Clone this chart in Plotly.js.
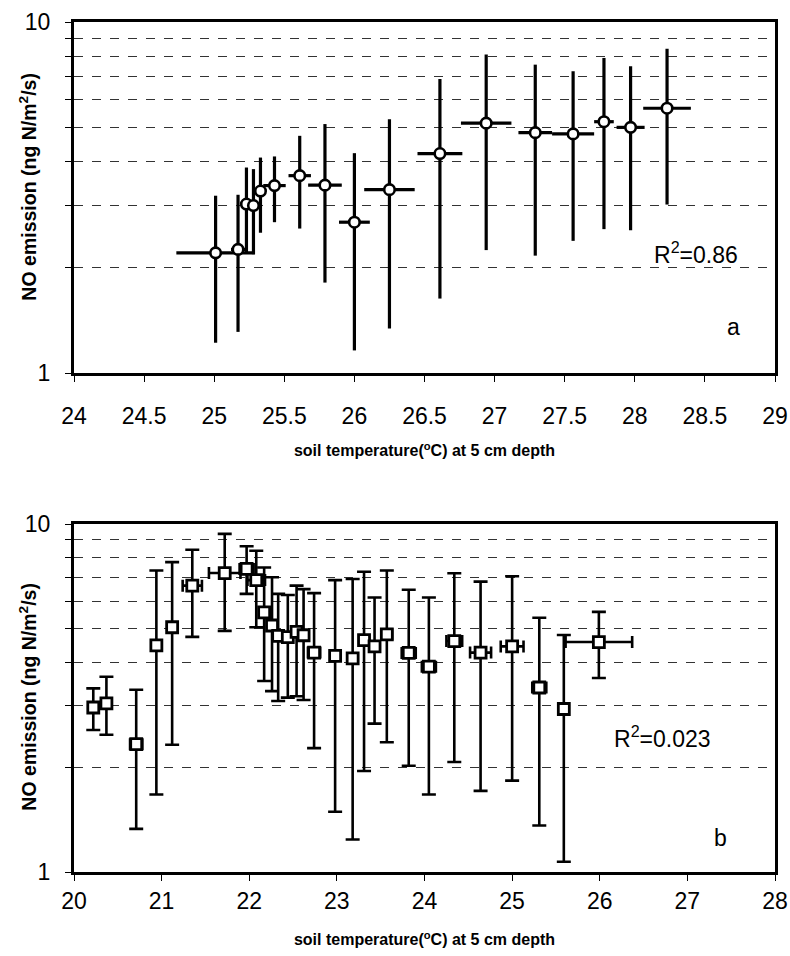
<!DOCTYPE html>
<html>
<head>
<meta charset="utf-8">
<script src="https://cdn.plot.ly/plotly-3.0.1.min.js"></script>
<style>html,body{margin:0;padding:0;background:#fff}</style>
</head>
<body>
<div id="chart" style="width:790px;height:956px"></div>
<script>
// Panel a
var aTemp   = [25.01, 25.17, 25.23, 25.28, 25.33, 25.43, 25.61, 25.79, 26.00, 26.25, 26.61, 26.94, 27.29, 27.56, 27.78, 27.97, 28.23];
var aTempErr= [0.28, 0.05, 0.03, 0.03, 0.04, 0.08, 0.08, 0.12, 0.11, 0.18, 0.16, 0.18, 0.12, 0.15, 0.07, 0.10, 0.17];
var aNO     = [2.20, 2.25, 3.03, 3.00, 3.30, 3.42, 3.65, 3.43, 2.69, 3.33, 4.22, 5.15, 4.84, 4.80, 5.20, 5.01, 5.68];
var aNOHigh = [3.20, 3.22, 3.85, 3.81, 4.11, 4.14, 4.74, 5.12, 4.23, 5.28, 6.88, 8.08, 7.56, 7.24, 7.90, 7.48, 8.39];
var aNOLow  = [1.22, 1.31, 2.21, 2.18, 2.51, 2.69, 2.58, 1.81, 1.16, 1.34, 1.63, 2.24, 2.16, 2.38, 2.57, 2.55, 3.02];

// Panel b
var bTemp   = [20.22, 20.37, 20.71, 20.94, 21.12, 21.35, 21.72, 21.97, 22.08, 22.17, 22.26, 22.33, 22.44, 22.54, 22.62, 22.74, 22.98, 23.18, 23.31, 23.43, 23.57, 23.82, 24.05, 24.34, 24.64, 25.00, 25.31, 25.59, 25.99];
var bTempErr= [0.03, 0.03, 0.07, 0.03, 0.03, 0.11, 0.18, 0.08, 0.10, 0.03, 0.03, 0.03, 0.03, 0.03, 0.03, 0.07, 0.05, 0.05, 0.03, 0.03, 0.06, 0.08, 0.08, 0.09, 0.12, 0.13, 0.08, 0.05, 0.38];
var bNO     = [2.97, 3.05, 2.33, 4.48, 5.05, 6.65, 7.23, 7.43, 6.90, 5.57, 5.11, 4.77, 4.73, 4.90, 4.79, 4.27, 4.18, 4.11, 4.64, 4.45, 4.82, 4.26, 3.89, 4.61, 4.27, 4.45, 3.39, 2.94, 4.58];
var bNOHigh = [3.37, 3.64, 3.34, 7.35, 7.77, 8.43, 9.37, 8.63, 8.38, 7.50, 7.03, 6.30, 6.25, 6.65, 6.50, 6.33, 6.90, 6.95, 7.29, 6.15, 7.35, 6.47, 6.15, 7.22, 6.83, 7.08, 5.38, 4.80, 5.59];
var bNOLow  = [2.56, 2.48, 1.33, 1.67, 2.32, 4.74, 4.93, 6.30, 5.05, 3.54, 3.31, 3.10, 3.17, 3.20, 3.12, 2.27, 1.49, 1.24, 1.95, 2.67, 2.36, 2.02, 1.67, 2.07, 1.71, 1.83, 1.36, 1.07, 3.61];

var yTickVals = [1, 2, 3, 4, 5, 6, 7, 8, 9, 10];
var yTickText = ['1', '', '', '', '', '', '', '', '', '10'];
var aTicks = [24, 24.5, 25, 25.5, 26, 26.5, 27, 27.5, 28, 28.5, 29];
var bTicks = [20, 21, 22, 23, 24, 25, 26, 27, 28];

var yTitle = '<b>NO emission (ng N/m<sup>2</sup>/s)</b>';
var xTitle = '<b>soil temperature(<sup>o</sup>C) at 5 cm depth</b>';

function diff(a, b) { return a.map(function (v, i) { return v - b[i]; }); }

var FONT = 'Liberation Sans, Arial, sans-serif';

var traceA = {
  x: aTemp, y: aNO, xaxis: 'x', yaxis: 'y', type: 'scatter', mode: 'markers',
  marker: {symbol: 'circle', size: 10.5, color: '#ffffff', line: {color: '#000', width: 2.6}},
  error_y: {type: 'data', symmetric: false, array: diff(aNOHigh, aNO), arrayminus: diff(aNO, aNOLow),
            color: '#000', thickness: 3.2, width: 0},
  error_x: {type: 'data', array: aTempErr, color: '#000', thickness: 3.2, width: 0},
  hoverinfo: 'skip'
};
var traceB = {
  x: bTemp, y: bNO, xaxis: 'x2', yaxis: 'y2', type: 'scatter', mode: 'markers',
  marker: {symbol: 'square', size: 11, color: '#ffffff', line: {color: '#000', width: 2.8}},
  error_y: {type: 'data', symmetric: false, array: diff(bNOHigh, bNO), arrayminus: diff(bNO, bNOLow),
            color: '#000', thickness: 2.6, width: 7},
  error_x: {type: 'data', array: bTempErr, color: '#000', thickness: 2.6, width: 6},
  hoverinfo: 'skip'
};

function yAxis(domain, anchor) {
  return {
    type: 'log', range: [0, 1], domain: domain, anchor: anchor,
    tickvals: yTickVals, ticktext: yTickText, ticks: 'outside', ticklen: 6, tickcolor: '#000', tickwidth: 1,
    ticklabelstandoff: 10,
    showgrid: true, gridcolor: '#333', griddash: 'dash', gridwidth: 1,
    showline: true, linecolor: '#000', linewidth: 3, mirror: true,
    tickfont: {family: FONT, size: 23, color: '#000'},
    zeroline: false
  };
}
function xAxis(range, ticks, anchor, labelStandoff, titleStandoff) {
  return {
    range: range, tickvals: ticks, ticks: 'outside', ticklen: 6, tickcolor: '#000', tickwidth: 1,
    ticklabelstandoff: labelStandoff,
    showgrid: false, showline: true, linecolor: '#000', linewidth: 3, mirror: true, anchor: anchor,
    tickfont: {family: FONT, size: 23, color: '#000'},
    title: {text: xTitle, font: {family: FONT, size: 16, color: '#000'}, standoff: titleStandoff},
    zeroline: false
  };
}

var layout = {
  width: 790, height: 956,
  margin: {l: 74, r: 15, t: 22, b: 84},
  paper_bgcolor: '#fff', plot_bgcolor: '#fff',
  showlegend: false,
  xaxis: xAxis([24, 29], aTicks, 'y', 14, 18),
  yaxis: yAxis([0.587, 1], 'x'),
  xaxis2: xAxis([20, 28], bTicks, 'y2', 0, 22),
  yaxis2: yAxis([0, 0.4094], 'x2'),
  annotations: [
    {xref: 'paper', yref: 'paper', x: -0.066, y: 0.806, xanchor: 'center', yanchor: 'middle', textangle: -90,
     text: yTitle, showarrow: false, font: {family: FONT, size: 19.5, color: '#000'}},
    {xref: 'paper', yref: 'paper', x: -0.066, y: 0.206, xanchor: 'center', yanchor: 'middle', textangle: -90,
     text: yTitle, showarrow: false, font: {family: FONT, size: 19.5, color: '#000'}},
    {xref: 'paper', yref: 'paper', x: 0.887, y: 0.728, xanchor: 'center', yanchor: 'middle', text: 'R<sup>2</sup>=0.86', showarrow: false, font: {family: FONT, size: 23, color: '#000'}},
    {xref: 'paper', yref: 'paper', x: 0.9415, y: 0.641, xanchor: 'center', yanchor: 'middle', text: 'a', showarrow: false, font: {family: FONT, size: 23, color: '#000'}},
    {xref: 'paper', yref: 'paper', x: 0.84, y: 0.159, xanchor: 'center', yanchor: 'middle', text: 'R<sup>2</sup>=0.023', showarrow: false, font: {family: FONT, size: 23, color: '#000'}},
    {xref: 'paper', yref: 'paper', x: 0.922, y: 0.04, xanchor: 'center', yanchor: 'middle', text: 'b', showarrow: false, font: {family: FONT, size: 23, color: '#000'}}
  ]
};

Plotly.newPlot('chart', [traceA, traceB], layout, {displayModeBar: false, staticPlot: true});
</script>
</body>
</html>
